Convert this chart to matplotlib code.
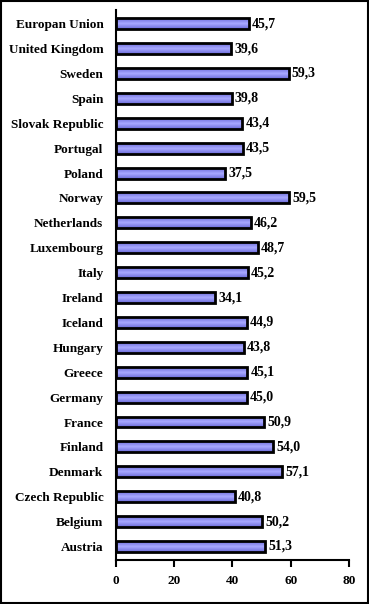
import matplotlib
matplotlib.use("Agg")
import matplotlib.pyplot as plt
import numpy as np
from matplotlib.patches import Rectangle

countries = ["Austria", "Belgium", "Czech Republic", "Denmark", "Finland", "France",
             "Germany", "Greece", "Hungary", "Iceland", "Ireland", "Italy",
             "Luxembourg", "Netherlands", "Norway", "Poland", "Portugal",
             "Slovak Republic", "Spain", "Sweden", "United Kingdom", "Europan Union"]
values = [51.3, 50.2, 40.8, 57.1, 54.0, 50.9, 45.0, 45.1, 43.8, 44.9, 34.1, 45.2,
          48.7, 46.2, 59.5, 37.5, 43.5, 43.4, 39.8, 59.3, 39.6, 45.7]
xticks = [0, 20, 40, 60, 80]

plt.rcParams['font.family'] = ['Liberation Serif', 'DejaVu Serif']
plt.rcParams['font.weight'] = 'bold'

fig = plt.figure(figsize=(3.69, 6.04), dpi=100)
ax = fig.add_axes([0.314, 0.073, 0.632, 0.910])

ypos = np.arange(len(countries))
bars = ax.barh(ypos, values, height=0.44, color='none', edgecolor='black', linewidth=2, zorder=3)

# vertical gradient inside each bar
grad = np.abs(np.linspace(-1, 1, 64)).reshape(-1, 1)
cmap = matplotlib.colors.LinearSegmentedColormap.from_list("g", ["#a8a8ff", "#6a6ad8"])
for b in bars:
    x0, y0 = b.get_x(), b.get_y()
    w, h = b.get_width(), b.get_height()
    im = ax.imshow(grad, extent=[x0, x0 + w, y0, y0 + h], aspect='auto',
                   cmap=cmap, origin='lower', zorder=2)
    im.set_clip_path(b)

for y, v in zip(ypos, values):
    ax.text(v + 1.0, y, f"{v:.1f}".replace(".", ","), va='center', ha='left',
            fontsize=10, fontweight='bold')

ax.set_xlim(0, 80)
ax.set_ylim(-0.54, 21.54)
ax.set_xticks(xticks)
ax.set_xticklabels([str(t) for t in xticks], fontsize=9.5, fontweight='bold')
ax.set_yticks(ypos)
ax.set_yticklabels(countries, fontsize=9.5, fontweight='bold')
ax.tick_params(axis='y', length=0, pad=9)
ax.tick_params(axis='x', length=5, width=1.5, direction='out', pad=6)
ax.spines['top'].set_visible(False)
ax.spines['right'].set_visible(False)
ax.spines['left'].set_linewidth(1.5)
ax.spines['bottom'].set_linewidth(1.5)

fig.patches.append(Rectangle((0.002, 0.002), 0.996, 0.996, transform=fig.transFigure,
                             fill=False, edgecolor='black', linewidth=1.5))

fig.savefig("out.png", dpi=100)
